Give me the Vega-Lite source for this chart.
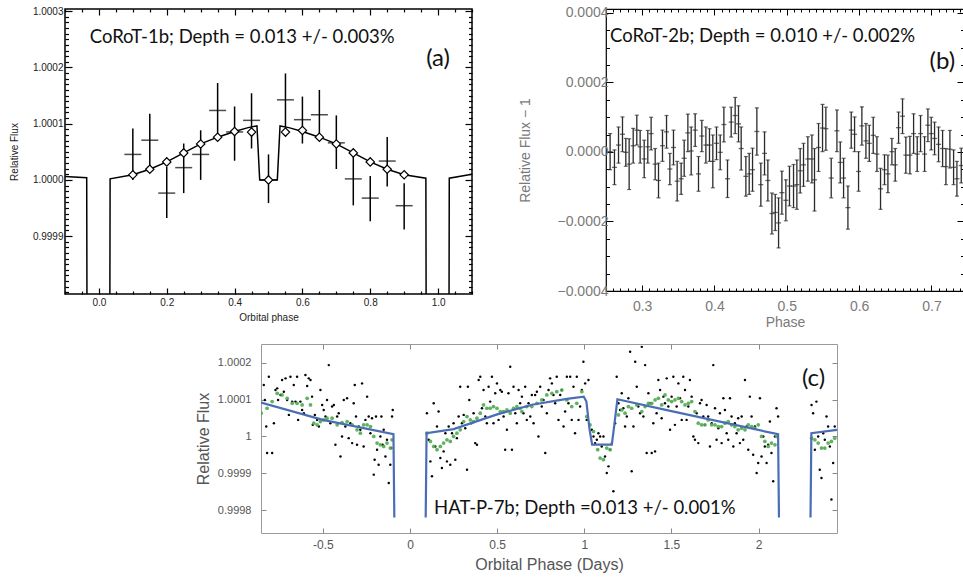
{
"$schema": "https://vega.github.io/schema/vega-lite/v6.json",
"background": "white",
"padding": {"left": 8, "top": 5, "right": 0, "bottom": 0},
"config": {"view": {"stroke": null}, "axis": {"grid": false, "domain": false, "labelOverlap": false, "labelFlush": false, "titleFontWeight": "normal"}},
"datasets": {
"aModel": [{"p":-0.1,"f":1.000006},{"p":-0.036,"f":1.000004},{"p":-0.035,"f":0.9997},{"p":0.032,"f":0.9997},{"p":0.033,"f":1.000002},{"p":0.1,"f":1.000009},{"p":0.15,"f":1.000019},{"p":0.2,"f":1.000032},{"p":0.25,"f":1.000048},{"p":0.3,"f":1.000064},{"p":0.35,"f":1.000076},{"p":0.4,"f":1.000086},{"p":0.44,"f":1.000093},{"p":0.466,"f":1.000096},{"p":0.474,"f":1.0},{"p":0.526,"f":1.0},{"p":0.534,"f":1.000096},{"p":0.56,"f":1.000093},{"p":0.6,"f":1.000086},{"p":0.65,"f":1.000076},{"p":0.7,"f":1.000064},{"p":0.75,"f":1.000048},{"p":0.8,"f":1.000032},{"p":0.85,"f":1.000019},{"p":0.9,"f":1.000009},{"p":0.964,"f":1.000003},{"p":0.965,"f":0.9997},{"p":1.032,"f":0.9997},{"p":1.033,"f":1.000003},{"p":1.1,"f":1.00001}],
"aPts": [
{"p":0.1,"v":1.0000453,"lo":1.0,"hi":1.0000912,"m":1.000009},
{"p":0.15,"v":1.0000706,"lo":1.0000176,"hi":1.0001176,"m":1.000019},
{"p":0.2,"v":0.9999765,"lo":0.9999324,"hi":1.0000235,"m":1.000032},
{"p":0.25,"v":1.0000218,"lo":0.9999765,"hi":1.0000647,"m":1.000048},
{"p":0.3,"v":1.0000453,"lo":1.0,"hi":1.0000882,"m":1.000064},
{"p":0.35,"v":1.0001235,"lo":1.0000765,"hi":1.0001724,"m":1.000076},
{"p":0.4,"v":1.0000853,"lo":1.0000341,"hi":1.0001306,"m":1.000086},
{"p":0.45,"v":1.0001059,"lo":1.0000559,"hi":1.0001541,"m":1.000085},
{"p":0.5,"v":1.0,"lo":0.9999588,"hi":1.0000453,"m":1.0},
{"p":0.55,"v":1.0001424,"lo":1.0000941,"hi":1.0001894,"m":1.000085},
{"p":0.6,"v":1.0001071,"lo":1.0000647,"hi":1.0001482,"m":1.000088},
{"p":0.65,"v":1.0001159,"lo":1.0000706,"hi":1.00016,"m":1.000076},
{"p":0.7,"v":1.0000659,"lo":1.0000194,"hi":1.0001147,"m":1.000064},
{"p":0.75,"v":1.0000018,"lo":0.9999547,"hi":1.0000482,"m":1.000048},
{"p":0.8,"v":0.9999676,"lo":0.9999265,"hi":1.0000071,"m":1.000032},
{"p":0.85,"v":1.0000335,"lo":0.9999882,"hi":1.0000765,"m":1.000019},
{"p":0.9,"v":0.9999541,"lo":0.9999118,"hi":0.9999941,"m":1.000009}],
"aText": [{"p":-0.027,"v":1.000254,"t":"CoRoT-1b; Depth = 0.013 +/- 0.003%"}],
"aLab": [{"p":1.0,"v":1.000215,"t":"(a)"}],
"bPts": [
{"p":0.2557,"v":0.000001,"lo":-0.000051,"hi":0.000053},
{"p":0.2617,"v":-0.000044,"lo":-0.000094,"hi":0.000006},
{"p":0.2673,"v":0.00002,"lo":-0.000032,"hi":0.000072},
{"p":0.2728,"v":0.000051,"lo":0.000001,"hi":0.000101},
{"p":0.2774,"v":-0.000001,"lo":-0.000041,"hi":0.000039},
{"p":0.282,"v":-0.000035,"lo":-0.000108,"hi":0.000038},
{"p":0.2876,"v":0.000018,"lo":-0.000032,"hi":0.000068},
{"p":0.2926,"v":0.000063,"lo":0.00002,"hi":0.000106},
{"p":0.2972,"v":0.000015,"lo":-0.000032,"hi":0.000062},
{"p":0.3028,"v":-0.00002,"lo":-0.000074,"hi":0.000034},
{"p":0.3078,"v":0.000015,"lo":-0.000032,"hi":0.000062},
{"p":0.3124,"v":0.000053,"lo":0.000006,"hi":0.0001},
{"p":0.318,"v":-0.000035,"lo":-0.00008,"hi":0.00001},
{"p":0.3226,"v":-0.000082,"lo":-0.000132,"hi":-0.000032},
{"p":0.3281,"v":0.000018,"lo":-0.000027,"hi":0.000063},
{"p":0.3337,"v":0.000058,"lo":0.000011,"hi":0.000105},
{"p":0.3383,"v":-0.000049,"lo":-0.000094,"hi":-0.000004},
{"p":0.3433,"v":0.000013,"lo":-0.000037,"hi":0.000063},
{"p":0.3484,"v":-0.000084,"lo":-0.000141,"hi":-0.000027},
{"p":0.3539,"v":-0.000077,"lo":-0.000122,"hi":-0.000032},
{"p":0.3581,"v":-0.000018,"lo":-0.00007,"hi":0.000034},
{"p":0.3632,"v":0.000055,"lo":0.000001,"hi":0.000109},
{"p":0.3678,"v":0.000003,"lo":-0.000066,"hi":0.000072},
{"p":0.3733,"v":0.000063,"lo":0.000016,"hi":0.00011},
{"p":0.3779,"v":-0.000063,"lo":-0.000113,"hi":-0.000013},
{"p":0.3825,"v":0.000046,"lo":0.000001,"hi":0.000091},
{"p":0.3881,"v":0.00002,"lo":-0.000032,"hi":0.000072},
{"p":0.3931,"v":0.00002,"lo":-0.000027,"hi":0.000067},
{"p":0.3977,"v":-0.000027,"lo":-0.000103,"hi":0.000049},
{"p":0.4028,"v":0.000025,"lo":-0.000022,"hi":0.000072},
{"p":0.4079,"v":-0.000001,"lo":-0.000051,"hi":0.000049},
{"p":0.413,"v":0.000079,"lo":0.000029,"hi":0.000129},
{"p":0.418,"v":-0.000077,"lo":-0.000131,"hi":-0.000023},
{"p":0.4231,"v":0.000086,"lo":0.000043,"hi":0.000129},
{"p":0.4286,"v":0.000105,"lo":0.000053,"hi":0.000157},
{"p":0.4332,"v":0.000081,"lo":0.000029,"hi":0.000133},
{"p":0.4369,"v":0.00001,"lo":-0.000052,"hi":0.000072},
{"p":0.4434,"v":-0.00007,"lo":-0.000127,"hi":-0.000013},
{"p":0.448,"v":-0.000063,"lo":-0.000122,"hi":-0.000004},
{"p":0.4526,"v":-0.000051,"lo":-0.000113,"hi":0.000011},
{"p":0.4586,"v":0.000059,"lo":-0.000009,"hi":0.000127},
{"p":0.4641,"v":-0.000094,"lo":-0.000156,"hi":-0.000032},
{"p":0.4692,"v":-0.000004,"lo":-0.000066,"hi":0.000058},
{"p":0.4738,"v":-0.000082,"lo":-0.000141,"hi":-0.000023},
{"p":0.4794,"v":-0.000177,"lo":-0.000236,"hi":-0.000118},
{"p":0.484,"v":-0.000174,"lo":-0.000226,"hi":-0.000122},
{"p":0.4886,"v":-0.000204,"lo":-0.000276,"hi":-0.000132},
{"p":0.4932,"v":-0.000117,"lo":-0.000179,"hi":-0.000055},
{"p":0.4987,"v":-0.000139,"lo":-0.000198,"hi":-0.00008},
{"p":0.5037,"v":-0.000098,"lo":-0.000155,"hi":-0.000041},
{"p":0.5093,"v":-0.000098,"lo":-0.00016,"hi":-0.000036},
{"p":0.5139,"v":-0.000094,"lo":-0.000165,"hi":-0.000023},
{"p":0.5185,"v":-0.000054,"lo":-0.000118,"hi":0.00001},
{"p":0.5231,"v":-0.000037,"lo":-0.000099,"hi":0.000025},
{"p":0.5291,"v":-0.00002,"lo":-0.000084,"hi":0.000044},
{"p":0.5347,"v":-0.00002,"lo":-0.000089,"hi":0.000049},
{"p":0.5383,"v":-0.00008,"lo":-0.00017,"hi":0.00001},
{"p":0.5439,"v":0.000013,"lo":-0.000056,"hi":0.000082},
{"p":0.5494,"v":0.000069,"lo":0.000001,"hi":0.000137},
{"p":0.554,"v":0.000067,"lo":0.000005,"hi":0.000129},
{"p":0.5614,"v":-0.000075,"lo":-0.000132,"hi":-0.000018},
{"p":0.5693,"v":0.000061,"lo":0.000001,"hi":0.000121},
{"p":0.5739,"v":-0.00003,"lo":-0.000089,"hi":0.000029},
{"p":0.5785,"v":-0.000075,"lo":-0.000132,"hi":-0.000018},
{"p":0.5845,"v":-0.00016,"lo":-0.000222,"hi":-0.000098},
{"p":0.5891,"v":0.000063,"lo":0.000011,"hi":0.000115},
{"p":0.5937,"v":0.000051,"lo":0.000001,"hi":0.000101},
{"p":0.5992,"v":-0.000056,"lo":-0.000113,"hi":0.000001},
{"p":0.6038,"v":0.000075,"lo":0.00002,"hi":0.00013},
{"p":0.6094,"v":0.000032,"lo":-0.000018,"hi":0.000082},
{"p":0.614,"v":0.000025,"lo":-0.000027,"hi":0.000077},
{"p":0.6195,"v":0.000048,"lo":-0.000004,"hi":0.0001},
{"p":0.6246,"v":-0.000006,"lo":-0.000056,"hi":0.000044},
{"p":0.6296,"v":-0.000106,"lo":-0.000165,"hi":-0.000047},
{"p":0.6351,"v":-0.000051,"lo":-0.000094,"hi":-0.000008},
{"p":0.6398,"v":-0.000063,"lo":-0.000117,"hi":-0.000009},
{"p":0.6453,"v":0.000001,"lo":-0.000037,"hi":0.000039},
{"p":0.6499,"v":-0.000037,"lo":-0.000084,"hi":0.00001},
{"p":0.6545,"v":0.00007,"lo":0.000025,"hi":0.000115},
{"p":0.66,"v":0.000103,"lo":0.000053,"hi":0.000153},
{"p":0.6646,"v":-0.000009,"lo":-0.000061,"hi":0.000043},
{"p":0.6702,"v":-0.000009,"lo":-0.000063,"hi":0.000045},
{"p":0.6753,"v":0.000053,"lo":-0.000004,"hi":0.00011},
{"p":0.6803,"v":-0.000006,"lo":-0.000056,"hi":0.000044},
{"p":0.6849,"v":0.000053,"lo":0.000001,"hi":0.000105},
{"p":0.6905,"v":-0.000006,"lo":-0.000056,"hi":0.000044},
{"p":0.6951,"v":0.000077,"lo":0.00003,"hi":0.000124},
{"p":0.6997,"v":0.000053,"lo":0.000006,"hi":0.0001},
{"p":0.7043,"v":0.000039,"lo":-0.000008,"hi":0.000086},
{"p":0.7098,"v":0.000022,"lo":-0.000028,"hi":0.000072},
{"p":0.7154,"v":0.00001,"lo":-0.000042,"hi":0.000062},
{"p":0.72,"v":-0.000042,"lo":-0.000094,"hi":0.00001},
{"p":0.7255,"v":0.000008,"lo":-0.000046,"hi":0.000062},
{"p":0.7306,"v":-0.000044,"lo":-0.000094,"hi":0.000006},
{"p":0.7352,"v":-0.000077,"lo":-0.000127,"hi":-0.000027},
{"p":0.7412,"v":-0.000039,"lo":-0.000089,"hi":0.000011}],
"bText": [{"p":0.2557,"v":0.000334,"t":"CoRoT-2b; Depth = 0.010 +/- 0.002%"}],
"bLab": [{"p":0.715,"v":0.000259,"t":"(b)"}],
"cModel": [{"s":1,"p":-0.855,"f":1.000092},{"s":1,"p":-0.5,"f":1.000045},{"s":1,"p":-0.095,"f":1.000006},{"s":1,"p":-0.09,"f":0.99978},{"s":2,"p":0.09,"f":0.99978},{"s":2,"p":0.095,"f":1.000009},{"s":2,"p":0.25,"f":1.00002},{"s":2,"p":0.5,"f":1.00006},{"s":2,"p":0.7,"f":1.000086},{"s":2,"p":0.9,"f":1.000102},{"s":2,"p":0.997,"f":1.000108},{"s":2,"p":1.012,"f":1.000095},{"s":2,"p":1.03,"f":1.00002},{"s":2,"p":1.045,"f":0.999978},{"s":2,"p":1.158,"f":0.999978},{"s":2,"p":1.172,"f":1.00003},{"s":2,"p":1.19,"f":1.000101},{"s":2,"p":1.5,"f":1.000069},{"s":2,"p":2.112,"f":1.000006},{"s":2,"p":2.117,"f":0.99978},{"s":3,"p":2.298,"f":0.99978},{"s":3,"p":2.303,"f":1.000009},{"s":3,"p":2.45,"f":1.000018}],
"cBlack": [
{"p":-0.839,"f":1.0001396},{"p":-0.833,"f":1.0000991},{"p":-0.825,"f":1.000027},{"p":-0.82,"f":0.999955},{"p":-0.81,"f":1.0001622},{"p":-0.791,"f":0.999955},{"p":-0.781,"f":1.000036},{"p":-0.772,"f":1.0001261},{"p":-0.762,"f":1.0001306},{"p":-0.757,"f":1.0000991},{"p":-0.743,"f":1.0001126},{"p":-0.734,"f":1.0001532},{"p":-0.724,"f":1.0001216},{"p":-0.714,"f":1.0001577},{"p":-0.705,"f":1.0000991},{"p":-0.695,"f":1.0000586},{"p":-0.686,"f":1.0001622},{"p":-0.676,"f":1.0000946},{"p":-0.667,"f":1.0001396},{"p":-0.657,"f":1.0000946},{"p":-0.648,"f":1.0001622},{"p":-0.642,"f":1.000045},{"p":-0.629,"f":1.0000946},{"p":-0.619,"f":1.0000721},{"p":-0.609,"f":1.0000631},{"p":-0.6,"f":1.0001667},{"p":-0.59,"f":1.0001369},{"p":-0.581,"f":1.0001577},{"p":-0.571,"f":1.0001532},{"p":-0.562,"f":1.0001081},{"p":-0.558,"f":1.0000315},{"p":-0.546,"f":1.0000586},{"p":-0.533,"f":1.000045},{"p":-0.523,"f":1.000027},{"p":-0.514,"f":1.0001261},{"p":-0.504,"f":1.0000856},{"p":-0.495,"f":1.0000721},{"p":-0.485,"f":1.0000541},{"p":-0.476,"f":1.0000991},{"p":-0.466,"f":1.0001937},{"p":-0.457,"f":1.000036},{"p":-0.447,"f":1.0000811},{"p":-0.437,"f":1.0000856},{"p":-0.428,"f":0.9999775},{"p":-0.418,"f":1.0000541},{"p":-0.409,"f":1.0000631},{"p":-0.399,"f":0.9999459},{"p":-0.39,"f":1.0},{"p":-0.38,"f":1.0000991},{"p":-0.371,"f":1.000027},{"p":-0.361,"f":1.0001036},{"p":-0.352,"f":0.9999955},{"p":-0.342,"f":1.000036},{"p":-0.332,"f":0.999982},{"p":-0.323,"f":1.0000901},{"p":-0.317,"f":1.0001396},{"p":-0.31,"f":1.0000541},{"p":-0.304,"f":0.9999775},{"p":-0.294,"f":1.000027},{"p":-0.285,"f":1.000018},{"p":-0.275,"f":1.0001441},{"p":-0.266,"f":0.999973},{"p":-0.256,"f":1.000045},{"p":-0.246,"f":1.0001081},{"p":-0.237,"f":1.0000541},{"p":-0.227,"f":1.000009},{"p":-0.218,"f":1.0000495},{"p":-0.208,"f":0.9998964},{"p":-0.203,"f":0.9999369},{"p":-0.195,"f":1.0000541},{"p":-0.189,"f":0.999964},{"p":-0.18,"f":0.9999234},{"p":-0.17,"f":1.0},{"p":-0.164,"f":1.0000541},{"p":-0.157,"f":0.9999775},{"p":-0.151,"f":1.000018},{"p":-0.141,"f":0.9999459},{"p":-0.132,"f":0.999991},{"p":-0.122,"f":0.9998739},{"p":-0.113,"f":0.9999234},{"p":-0.107,"f":0.9999685},{"p":-0.103,"f":1.0000541},{"p":-0.099,"f":1.0000721},
{"p":0.097,"f":1.0000631},{"p":0.107,"f":0.999991},{"p":0.117,"f":0.9999324},{"p":0.126,"f":0.9998919},{"p":0.136,"f":1.0000901},{"p":0.145,"f":0.999973},{"p":0.155,"f":1.000027},{"p":0.164,"f":1.0000676},{"p":0.174,"f":0.9999414},{"p":0.183,"f":0.9999144},{"p":0.193,"f":0.9999595},{"p":0.203,"f":1.000009},{"p":0.212,"f":0.9999324},{"p":0.222,"f":1.000027},{"p":0.231,"f":0.9999234},{"p":0.241,"f":1.000009},{"p":0.25,"f":1.000036},{"p":0.26,"f":0.9999369},{"p":0.269,"f":0.9999955},{"p":0.279,"f":1.0000541},{"p":0.288,"f":1.0001351},{"p":0.298,"f":1.000036},{"p":0.308,"f":1.0000586},{"p":0.317,"f":1.0000225},{"p":0.327,"f":0.9999099},{"p":0.332,"f":1.0001351},{"p":0.34,"f":1.0000991},{"p":0.352,"f":1.000036},{"p":0.365,"f":1.0000631},{"p":0.374,"f":0.999982},{"p":0.384,"f":0.9999775},{"p":0.394,"f":1.0001532},{"p":0.403,"f":1.0001622},{"p":0.413,"f":1.0000766},{"p":0.422,"f":1.0001261},{"p":0.432,"f":1.0000541},{"p":0.441,"f":1.000036},{"p":0.451,"f":1.0001351},{"p":0.46,"f":1.0000946},{"p":0.47,"f":1.0001622},{"p":0.479,"f":1.000036},{"p":0.489,"f":1.0001171},{"p":0.499,"f":1.0001441},{"p":0.508,"f":1.000045},{"p":0.518,"f":1.0001261},{"p":0.527,"f":1.0001216},{"p":0.537,"f":1.0000541},{"p":0.546,"f":0.999964},{"p":0.556,"f":1.000018},{"p":0.565,"f":1.0001171},{"p":0.575,"f":1.0001892},{"p":0.585,"f":0.999964},
{"p":0.594,"f":1.0001351},{"p":0.604,"f":1.0000631},{"p":0.613,"f":1.000036},{"p":0.623,"f":1.0001261},{"p":0.632,"f":1.0000901},{"p":0.642,"f":1.0001081},{"p":0.651,"f":1.0000631},{"p":0.661,"f":1.0001351},{"p":0.67,"f":1.000045},{"p":0.68,"f":1.0000901},{"p":0.69,"f":1.0000541},{"p":0.699,"f":1.0001126},{"p":0.709,"f":1.000036},{"p":0.718,"f":1.0001126},{"p":0.728,"f":1.0001216},{"p":0.737,"f":1.0},{"p":0.747,"f":1.0001351},{"p":0.756,"f":1.0000811},{"p":0.766,"f":1.0000991},{"p":0.776,"f":0.999955},{"p":0.785,"f":1.0000631},{"p":0.795,"f":1.0001261},{"p":0.804,"f":1.0001577},{"p":0.814,"f":1.0001441},{"p":0.823,"f":1.0001126},{"p":0.833,"f":1.0000901},{"p":0.842,"f":1.0001622},{"p":0.852,"f":1.000045},{"p":0.862,"f":1.0001126},{"p":0.871,"f":1.0001261},{"p":0.881,"f":1.000027},{"p":0.89,"f":1.0000676},{"p":0.9,"f":1.0001622},{"p":0.909,"f":1.0000901},{"p":0.919,"f":1.0001622},{"p":0.928,"f":1.000045},{"p":0.938,"f":1.0001351},{"p":0.947,"f":1.000009},{"p":0.957,"f":1.0001622},{"p":0.967,"f":1.000045},{"p":0.976,"f":1.0000811},{"p":0.986,"f":1.0001261},{"p":0.995,"f":1.0002027},{"p":1.005,"f":1.0001441},{"p":1.014,"f":1.000045},{"p":1.024,"f":1.0001532},{"p":1.043,"f":1.000018},{"p":1.053,"f":1.0},{"p":1.062,"f":0.999982},{"p":1.072,"f":0.999991},{"p":1.081,"f":1.000009},{"p":1.091,"f":1.0},{"p":1.1,"f":0.999973},{"p":1.11,"f":1.0},{"p":1.119,"f":0.9999459},{"p":1.129,"f":0.9999009},{"p":1.139,"f":0.9999189},{"p":1.148,"f":0.999964},{"p":1.158,"f":0.999982},{"p":1.167,"f":0.9998514},{"p":1.177,"f":1.000036},{"p":1.186,"f":1.0001622},{"p":1.196,"f":1.0000901},{"p":1.205,"f":1.0000721},{"p":1.215,"f":1.0001171},{"p":1.224,"f":1.0000766},{"p":1.234,"f":1.000027},{"p":1.244,"f":1.0000541},{"p":1.253,"f":1.0001036},{"p":1.263,"f":1.0002297},{"p":1.272,"f":0.9999054},{"p":1.282,"f":1.000027},{"p":1.292,"f":1.0002027},{"p":1.301,"f":1.0001351},{"p":1.31,"f":1.0000811},{"p":1.32,"f":1.0000631},{"p":1.33,"f":1.0002432},{"p":1.339,"f":1.0000541},{"p":1.349,"f":1.0001937},{"p":1.358,"f":0.999955},{"p":1.368,"f":1.0001171},{"p":1.377,"f":1.0000901},{"p":1.387,"f":0.999955},{"p":1.396,"f":1.000036},{"p":1.406,"f":0.9999595},{"p":1.415,"f":1.0000631},{"p":1.425,"f":1.0001532},{"p":1.435,"f":1.0001261},{"p":1.444,"f":1.0000495},{"p":1.454,"f":1.0001081},{"p":1.463,"f":1.0000901},{"p":1.473,"f":1.0001577},{"p":1.482,"f":1.0000811},{"p":1.492,"f":1.000018},{"p":1.501,"f":1.0001081},{"p":1.511,"f":1.0001622},{"p":1.52,"f":1.0000315},{"p":1.53,"f":1.0000811},{"p":1.54,"f":1.0001441},{"p":1.549,"f":1.0001036},{"p":1.559,"f":1.000045},{"p":1.568,"f":1.0001622},{"p":1.578,"f":1.0001261},{"p":1.587,"f":1.000045},{"p":1.597,"f":1.0000811},{"p":1.606,"f":1.0001532},{"p":1.616,"f":1.0001081},{"p":1.626,"f":1.0},{"p":1.635,"f":0.999991},{"p":1.645,"f":1.0000631},{"p":1.654,"f":0.999982},{"p":1.664,"f":1.0000901},{"p":1.673,"f":1.0000991},{"p":1.683,"f":1.0000541},{"p":1.692,"f":1.0000315},{"p":1.702,"f":1.0000856},{"p":1.711,"f":1.0000541},{"p":1.721,"f":0.999973},{"p":1.731,"f":1.000036},{"p":1.74,"f":1.0001937},{"p":1.75,"f":1.0000766},{"p":1.759,"f":0.999991},{"p":1.769,"f":1.0000225},{"p":1.778,"f":1.0000631},{"p":1.788,"f":0.999982},{"p":1.798,"f":1.0001036},{"p":1.807,"f":1.0000721},{"p":1.817,"f":1.000009},{"p":1.826,"f":0.999991},{"p":1.836,"f":1.0001036},{"p":1.845,"f":1.0000541},{"p":1.855,"f":0.999973},{"p":1.864,"f":1.000036},{"p":1.874,"f":1.000009},{"p":1.883,"f":1.0000495},{"p":1.893,"f":0.999982},{"p":1.903,"f":1.0000541},{"p":1.912,"f":0.999991},{"p":1.922,"f":1.0001532},{"p":1.931,"f":1.000027},{"p":1.941,"f":0.999964},{"p":1.95,"f":1.0001081},{"p":1.96,"f":1.0000541},{"p":1.969,"f":0.9999505},{"p":1.979,"f":1.000027},{"p":1.989,"f":0.9999009},{"p":1.998,"f":0.9999279},{"p":2.008,"f":1.0001036},{"p":2.017,"f":0.9999459},{"p":2.027,"f":1.0},{"p":2.036,"f":0.999973},{"p":2.046,"f":0.9999279},{"p":2.055,"f":0.9999775},{"p":2.065,"f":1.0000405},{"p":2.074,"f":0.999955},{"p":2.084,"f":0.9998784},{"p":2.094,"f":1.0},{"p":2.103,"f":1.0000766},{"p":2.112,"f":1.0000541},
{"p":2.304,"f":1.0000856},{"p":2.313,"f":1.0000631},{"p":2.323,"f":0.999964},{"p":2.332,"f":1.0000946},{"p":2.342,"f":1.0},{"p":2.351,"f":0.9999099},{"p":2.361,"f":0.9998874},{"p":2.371,"f":1.000009},{"p":2.38,"f":0.999991},{"p":2.39,"f":1.0000541},{"p":2.399,"f":1.000027},{"p":2.409,"f":0.999973},{"p":2.418,"f":0.9998288},{"p":2.428,"f":0.9999279},{"p":2.437,"f":1.000027}],
"cGreen": [
{"p":-0.854,"f":1.0000631},{"p":-0.82,"f":1.0000766},{"p":-0.791,"f":1.0000946},{"p":-0.762,"f":1.0001171},{"p":-0.734,"f":1.0001126},{"p":-0.705,"f":1.0001036},{"p":-0.676,"f":1.0000901},{"p":-0.648,"f":1.0000901},{"p":-0.619,"f":1.0000856},{"p":-0.59,"f":1.0001036},{"p":-0.571,"f":1.0000856},{"p":-0.552,"f":1.000036},{"p":-0.533,"f":1.0000315},{"p":-0.514,"f":1.0000405},{"p":-0.495,"f":1.000045},{"p":-0.476,"f":1.0000495},{"p":-0.447,"f":1.0000495},{"p":-0.418,"f":1.0000315},{"p":-0.39,"f":1.0000378},{"p":-0.361,"f":1.0000405},{"p":-0.332,"f":1.0000315},{"p":-0.304,"f":1.000018},{"p":-0.285,"f":1.000009},{"p":-0.266,"f":1.0000315},{"p":-0.246,"f":1.0000315},{"p":-0.227,"f":1.000027},{"p":-0.208,"f":1.0},{"p":-0.189,"f":0.999982},{"p":-0.17,"f":0.9999775},{"p":-0.151,"f":0.999973},{"p":-0.132,"f":0.999982},{"p":-0.113,"f":0.9999685},{"p":-0.103,"f":0.999991},
{"p":0.097,"f":1.000009},{"p":0.117,"f":0.9999865},{"p":0.136,"f":0.999973},{"p":0.155,"f":0.999964},{"p":0.174,"f":0.999973},{"p":0.193,"f":0.999982},{"p":0.212,"f":0.999991},{"p":0.231,"f":0.9999865},{"p":0.25,"f":1.0},{"p":0.269,"f":1.000009},{"p":0.288,"f":1.000018},{"p":0.308,"f":1.0000405},{"p":0.327,"f":1.0000541},{"p":0.346,"f":1.000045},{"p":0.365,"f":1.0000405},{"p":0.384,"f":1.0000495},{"p":0.403,"f":1.0000631},{"p":0.422,"f":1.0000856},{"p":0.441,"f":1.0000766},{"p":0.46,"f":1.0000766},{"p":0.479,"f":1.0000811},{"p":0.499,"f":1.0000766},{"p":0.518,"f":1.0000676},{"p":0.537,"f":1.0000676},{"p":0.556,"f":1.0000721},{"p":0.575,"f":1.0000631},{"p":0.594,"f":1.0000766},{"p":0.613,"f":1.0000811},{"p":0.632,"f":1.0000766},{"p":0.642,"f":1.0000676},{"p":0.67,"f":1.0000811},{"p":0.699,"f":1.0000811},{"p":0.728,"f":1.0000901},{"p":0.756,"f":1.0000991},{"p":0.785,"f":1.0001126},{"p":0.814,"f":1.0001171},{"p":0.842,"f":1.0001216},{"p":0.871,"f":1.0001261},{"p":0.9,"f":1.0000991},{"p":0.928,"f":1.0000811},{"p":0.957,"f":1.0000901},{"p":0.986,"f":1.0001216},{"p":1.014,"f":1.0000541},{"p":1.033,"f":1.0000315},{"p":1.053,"f":1.0000135},{"p":1.077,"f":0.999964},{"p":1.091,"f":0.9999414},{"p":1.11,"f":0.9999369},{"p":1.129,"f":0.9999685},{"p":1.148,"f":0.999964},
{"p":1.196,"f":1.0000586},{"p":1.215,"f":1.0000721},{"p":1.234,"f":1.0000631},{"p":1.253,"f":1.0000811},{"p":1.272,"f":1.0000766},{"p":1.301,"f":1.0000856},{"p":1.33,"f":1.0000676},{"p":1.349,"f":1.0000811},{"p":1.368,"f":1.0000901},{"p":1.387,"f":1.0000901},{"p":1.406,"f":1.0000991},{"p":1.425,"f":1.0001036},{"p":1.444,"f":1.0000856},{"p":1.463,"f":1.0001126},{"p":1.482,"f":1.0000991},{"p":1.501,"f":1.0000946},{"p":1.52,"f":1.0000991},{"p":1.54,"f":1.0001036},{"p":1.559,"f":1.0000946},{"p":1.578,"f":1.0000856},{"p":1.597,"f":1.0000901},{"p":1.616,"f":1.0000946},{"p":1.635,"f":1.0000676},{"p":1.654,"f":1.000036},{"p":1.673,"f":1.0000315},{"p":1.692,"f":1.0000315},{"p":1.711,"f":1.000045},{"p":1.731,"f":1.0000315},{"p":1.75,"f":1.0000315},{"p":1.769,"f":1.000027},{"p":1.788,"f":1.000027},{"p":1.807,"f":1.000036},{"p":1.826,"f":1.0000405},{"p":1.845,"f":1.0000315},{"p":1.864,"f":1.000027},{"p":1.883,"f":1.000018},{"p":1.903,"f":1.0000225},{"p":1.922,"f":1.000018},{"p":1.941,"f":1.0000315},{"p":1.96,"f":1.000027},{"p":1.979,"f":1.0000225},{"p":1.998,"f":1.0000315},{"p":2.017,"f":1.0},{"p":2.036,"f":0.9999865},{"p":2.055,"f":0.999973},{"p":2.074,"f":0.999982},{"p":2.094,"f":0.9999775},{"p":2.103,"f":1.0},
{"p":2.304,"f":0.9999955},{"p":2.323,"f":0.999991},{"p":2.342,"f":0.999982},{"p":2.361,"f":0.9999685},{"p":2.38,"f":0.9999685},{"p":2.399,"f":0.999982},{"p":2.418,"f":0.9999865},{"p":2.437,"f":0.9999955}],
"cText": [{"p":0.138,"f":0.999805,"t":"HAT-P-7b; Depth =0.013 +/- 0.001%"}],
"cLab": [{"p":2.315,"f":1.000157,"t":"(c)"}]
},
"bounds": "flush",
"spacing": 335,
"vconcat": [
{"bounds": "flush", "spacing": 134, "hconcat": [
{"width": 407, "height": 285,
 "view": {"stroke": "black", "strokeWidth": 1.5},
 "resolve": {"axis": {"x": "independent", "y": "independent"}},
 "layer": [
  {"data": {"name": "aModel"}, "mark": {"type": "line", "color": "black", "strokeWidth": 1.5, "clip": true},
   "encoding": {
    "x": {"field": "p", "type": "quantitative", "scale": {"domain": [-0.1, 1.1], "nice": false, "zero": false},
     "axis": {"orient": "bottom", "values": [0,0.2,0.4,0.6,0.8,1], "format": ".1f",
      "tickSize": -6, "tickColor": "black", "tickWidth": 1.2, "labelFont": "Liberation Sans", "labelFontSize": 10, "labelColor": "#222", "labelPadding": 9,
      "title": "Orbital phase", "titleFont": "Liberation Sans", "titleFontSize": 10, "titleColor": "#222", "titlePadding": 5}},
    "y": {"field": "f", "type": "quantitative", "scale": {"domain": [0.999797, 1.000304], "nice": false, "zero": false},
     "axis": {"orient": "left", "values": [0.9999,1,1.0001,1.0002,1.0003], "format": ".4f",
      "tickSize": -7, "tickColor": "black", "tickWidth": 1.2, "labelFont": "Liberation Sans", "labelFontSize": 10, "labelColor": "#222", "labelPadding": 9,
      "title": "Relative Flux", "titleFont": "Liberation Sans", "titleFontSize": 10, "titleColor": "#222", "titlePadding": 13}}}},
  {"data": {"name": "aPts"}, "mark": {"type": "rule", "color": "black", "strokeWidth": 1.5},
   "encoding": {"x": {"field": "p", "type": "quantitative", "scale": {"domain": [-0.1, 1.1], "nice": false, "zero": false}, "axis": null},
    "y": {"field": "lo", "type": "quantitative", "scale": {"domain": [0.999797, 1.000304], "nice": false, "zero": false}, "axis": null},
    "y2": {"field": "hi"}}},
  {"data": {"name": "aPts"}, "mark": {"type": "tick", "orient": "horizontal", "size": 17, "thickness": 1.5, "color": "black"},
   "encoding": {"x": {"field": "p", "type": "quantitative", "scale": {"domain": [-0.1, 1.1], "nice": false, "zero": false}, "axis": null},
    "y": {"field": "v", "type": "quantitative", "scale": {"domain": [0.999797, 1.000304], "nice": false, "zero": false}, "axis": null}}},
  {"data": {"name": "aPts"}, "mark": {"type": "point", "shape": "diamond", "filled": true, "fill": "white", "stroke": "black", "strokeWidth": 1.2, "size": 70, "opacity": 1},
   "encoding": {"x": {"field": "p", "type": "quantitative", "scale": {"domain": [-0.1, 1.1], "nice": false, "zero": false}, "axis": null},
    "y": {"field": "m", "type": "quantitative", "scale": {"domain": [0.999797, 1.000304], "nice": false, "zero": false}, "axis": null}}},
  {"data": {"name": "aText"}, "mark": {"type": "text", "align": "left", "baseline": "middle", "font": "Lato", "fontSize": 18.5, "color": "#111"},
   "encoding": {"x": {"field": "p", "type": "quantitative", "scale": {"domain": [-0.1, 1.1], "nice": false, "zero": false}, "axis": null},
    "y": {"field": "v", "type": "quantitative", "scale": {"domain": [0.999797, 1.000304], "nice": false, "zero": false}, "axis": null},
    "text": {"field": "t"}}},
  {"data": {"name": "aLab"}, "mark": {"type": "text", "align": "center", "baseline": "middle", "font": "Lato", "fontSize": 24, "color": "#111"},
   "encoding": {"x": {"field": "p", "type": "quantitative", "scale": {"domain": [-0.1, 1.1], "nice": false, "zero": false}, "axis": null},
    "y": {"field": "v", "type": "quantitative", "scale": {"domain": [0.999797, 1.000304], "nice": false, "zero": false}, "axis": null},
    "text": {"field": "t"}}},
  {"data": {"name": "aModel"}, "mark": {"type": "point", "opacity": 0},
   "encoding": {
    "x": {"field": "p", "type": "quantitative", "scale": {"domain": [-0.1, 1.1], "nice": false, "zero": false},
     "axis": {"orient": "top", "values": [0,0.2,0.4,0.6,0.8,1], "labels": false, "title": null, "tickSize": -6, "tickColor": "black", "tickWidth": 1.2}},
    "y": {"field": "f", "type": "quantitative", "scale": {"domain": [0.999797, 1.000304], "nice": false, "zero": false},
     "axis": {"orient": "right", "values": [0.9999,1,1.0001,1.0002,1.0003], "labels": false, "title": null, "tickSize": -7, "tickColor": "black", "tickWidth": 1.2}}}},
  {"data": {"name": "aModel"}, "mark": {"type": "point", "opacity": 0},
   "encoding": {
    "x": {"field": "p", "type": "quantitative", "scale": {"domain": [-0.1, 1.1], "nice": false, "zero": false},
     "axis": {"orient": "bottom", "values": [-0.1,-0.05,0.05,0.1,0.15,0.25,0.3,0.35,0.45,0.5,0.55,0.65,0.7,0.75,0.85,0.9,0.95,1.05,1.1], "labels": false, "title": null, "tickSize": -3, "tickColor": "black", "tickWidth": 1.2}},
    "y": {"field": "f", "type": "quantitative", "scale": {"domain": [0.999797, 1.000304], "nice": false, "zero": false},
     "axis": {"orient": "left", "values": [0.9998,0.99981,0.99982,0.99983,0.99984,0.99985,0.99986,0.99987,0.99988,0.99989,0.99991,0.99992,0.99993,0.99994,0.99995,0.99996,0.99997,0.99998,0.99999,1.00001,1.00002,1.00003,1.00004,1.00005,1.00006,1.00007,1.00008,1.00009,1.00011,1.00012,1.00013,1.00014,1.00015,1.00016,1.00017,1.00018,1.00019,1.00021,1.00022,1.00023,1.00024,1.00025,1.00026,1.00027,1.00028,1.00029], "labels": false, "title": null, "tickSize": -3.5, "tickColor": "black", "tickWidth": 1.2}}}},
  {"data": {"name": "aModel"}, "mark": {"type": "point", "opacity": 0},
   "encoding": {
    "x": {"field": "p", "type": "quantitative", "scale": {"domain": [-0.1, 1.1], "nice": false, "zero": false},
     "axis": {"orient": "top", "values": [-0.1,-0.05,0.05,0.1,0.15,0.25,0.3,0.35,0.45,0.5,0.55,0.65,0.7,0.75,0.85,0.9,0.95,1.05,1.1], "labels": false, "title": null, "tickSize": -3, "tickColor": "black", "tickWidth": 1.2}},
    "y": {"field": "f", "type": "quantitative", "scale": {"domain": [0.999797, 1.000304], "nice": false, "zero": false},
     "axis": {"orient": "right", "values": [0.9998,0.99981,0.99982,0.99983,0.99984,0.99985,0.99986,0.99987,0.99988,0.99989,0.99991,0.99992,0.99993,0.99994,0.99995,0.99996,0.99997,0.99998,0.99999,1.00001,1.00002,1.00003,1.00004,1.00005,1.00006,1.00007,1.00008,1.00009,1.00011,1.00012,1.00013,1.00014,1.00015,1.00016,1.00017,1.00018,1.00019,1.00021,1.00022,1.00023,1.00024,1.00025,1.00026,1.00027,1.00028,1.00029], "labels": false, "title": null, "tickSize": -3.5, "tickColor": "black", "tickWidth": 1.2}}}}
 ]},
{"width": 358, "height": 282,
 "view": {"stroke": "black", "strokeWidth": 1.2},
 "resolve": {"axis": {"x": "independent", "y": "independent"}},
 "layer": [
  {"data": {"name": "bPts"}, "mark": {"type": "rule", "color": "#2a2a2a", "strokeWidth": 1.3},
   "encoding": {
    "x": {"field": "p", "type": "quantitative", "scale": {"domain": [0.25, 0.745], "nice": false, "zero": false},
     "axis": {"orient": "bottom", "values": [0.3,0.4,0.5,0.6,0.7], "format": ".1f",
      "tickSize": -6, "tickColor": "black", "tickWidth": 1, "labelFont": "Liberation Sans", "labelFontSize": 14, "labelColor": "#7a7a7a", "labelPadding": 14,
      "title": "Phase", "titleFont": "Liberation Sans", "titleFontSize": 14, "titleColor": "#7a7a7a", "titlePadding": 2}},
    "y": {"field": "lo", "type": "quantitative", "scale": {"domain": [-0.0004, 0.0004115], "nice": false, "zero": false},
     "axis": {"orient": "left", "values": [-0.0004,-0.0002,0,0.0002,0.0004], "format": ".4f",
      "tickSize": -7, "tickColor": "black", "tickWidth": 1, "labelFont": "Liberation Sans", "labelFontSize": 14, "labelColor": "#7a7a7a", "labelPadding": 5,
      "title": "Relative Flux − 1", "titleFont": "Liberation Sans", "titleFontSize": 14, "titleColor": "#7a7a7a", "titlePadding": 25}},
    "y2": {"field": "hi"}}},
  {"data": {"name": "bPts"}, "mark": {"type": "tick", "orient": "horizontal", "size": 5, "thickness": 1.3, "color": "#2a2a2a"},
   "encoding": {"x": {"field": "p", "type": "quantitative", "scale": {"domain": [0.25, 0.745], "nice": false, "zero": false}, "axis": null},
    "y": {"field": "v", "type": "quantitative", "scale": {"domain": [-0.0004, 0.0004115], "nice": false, "zero": false}, "axis": null}}},
  {"data": {"name": "bPts"}, "mark": {"type": "tick", "orient": "horizontal", "size": 4, "thickness": 1.2, "color": "#2a2a2a"},
   "encoding": {"x": {"field": "p", "type": "quantitative", "scale": {"domain": [0.25, 0.745], "nice": false, "zero": false}, "axis": null},
    "y": {"field": "lo", "type": "quantitative", "scale": {"domain": [-0.0004, 0.0004115], "nice": false, "zero": false}, "axis": null}}},
  {"data": {"name": "bPts"}, "mark": {"type": "tick", "orient": "horizontal", "size": 4, "thickness": 1.2, "color": "#2a2a2a"},
   "encoding": {"x": {"field": "p", "type": "quantitative", "scale": {"domain": [0.25, 0.745], "nice": false, "zero": false}, "axis": null},
    "y": {"field": "hi", "type": "quantitative", "scale": {"domain": [-0.0004, 0.0004115], "nice": false, "zero": false}, "axis": null}}},
  {"mark": {"type": "rule", "color": "black", "strokeWidth": 2.2},
   "encoding": {"y": {"datum": 0, "type": "quantitative", "scale": {"domain": [-0.0004, 0.0004115], "nice": false, "zero": false}, "axis": null}}},
  {"data": {"name": "bText"}, "mark": {"type": "text", "align": "left", "baseline": "middle", "font": "Lato", "fontSize": 18.5, "color": "#111"},
   "encoding": {"x": {"field": "p", "type": "quantitative", "scale": {"domain": [0.25, 0.745], "nice": false, "zero": false}, "axis": null},
    "y": {"field": "v", "type": "quantitative", "scale": {"domain": [-0.0004, 0.0004115], "nice": false, "zero": false}, "axis": null},
    "text": {"field": "t"}}},
  {"data": {"name": "bLab"}, "mark": {"type": "text", "align": "center", "baseline": "middle", "font": "Lato", "fontSize": 24, "color": "#111"},
   "encoding": {"x": {"field": "p", "type": "quantitative", "scale": {"domain": [0.25, 0.745], "nice": false, "zero": false}, "axis": null},
    "y": {"field": "v", "type": "quantitative", "scale": {"domain": [-0.0004, 0.0004115], "nice": false, "zero": false}, "axis": null},
    "text": {"field": "t"}}},
  {"data": {"name": "bPts"}, "mark": {"type": "point", "opacity": 0},
   "encoding": {
    "x": {"field": "p", "type": "quantitative", "scale": {"domain": [0.25, 0.745], "nice": false, "zero": false},
     "axis": {"orient": "top", "values": [0.3,0.4,0.5,0.6,0.7], "labels": false, "title": null, "tickSize": -6, "tickColor": "black", "tickWidth": 1}},
    "y": {"field": "v", "type": "quantitative", "scale": {"domain": [-0.0004, 0.0004115], "nice": false, "zero": false},
     "axis": {"orient": "right", "values": [-0.0004,-0.0002,0,0.0002,0.0004], "labels": false, "title": null, "tickSize": -7, "tickColor": "black", "tickWidth": 1}}}},
  {"data": {"name": "bPts"}, "mark": {"type": "point", "opacity": 0},
   "encoding": {
    "x": {"field": "p", "type": "quantitative", "scale": {"domain": [0.25, 0.745], "nice": false, "zero": false},
     "axis": {"orient": "bottom", "values": [0.25,0.26,0.27,0.28,0.29,0.31,0.32,0.33,0.34,0.35,0.36,0.37,0.38,0.39,0.41,0.42,0.43,0.44,0.45,0.46,0.47,0.48,0.49,0.51,0.52,0.53,0.54,0.55,0.56,0.57,0.58,0.59,0.61,0.62,0.63,0.64,0.65,0.66,0.67,0.68,0.69,0.71,0.72,0.73,0.74], "labels": false, "title": null, "tickSize": -3, "tickColor": "black", "tickWidth": 1}},
    "y": {"field": "v", "type": "quantitative", "scale": {"domain": [-0.0004, 0.0004115], "nice": false, "zero": false},
     "axis": {"orient": "left", "values": [-0.00035,-0.0003,-0.00025,-0.00015,-0.0001,-0.00005,0.00005,0.0001,0.00015,0.00025,0.0003,0.00035], "labels": false, "title": null, "tickSize": -3.5, "tickColor": "black", "tickWidth": 1}}}},
  {"data": {"name": "bPts"}, "mark": {"type": "point", "opacity": 0},
   "encoding": {
    "x": {"field": "p", "type": "quantitative", "scale": {"domain": [0.25, 0.745], "nice": false, "zero": false},
     "axis": {"orient": "top", "values": [0.25,0.26,0.27,0.28,0.29,0.31,0.32,0.33,0.34,0.35,0.36,0.37,0.38,0.39,0.41,0.42,0.43,0.44,0.45,0.46,0.47,0.48,0.49,0.51,0.52,0.53,0.54,0.55,0.56,0.57,0.58,0.59,0.61,0.62,0.63,0.64,0.65,0.66,0.67,0.68,0.69,0.71,0.72,0.73,0.74], "labels": false, "title": null, "tickSize": -3, "tickColor": "black", "tickWidth": 1}},
    "y": {"field": "v", "type": "quantitative", "scale": {"domain": [-0.0004, 0.0004115], "nice": false, "zero": false},
     "axis": {"orient": "right", "values": [-0.00035,-0.0003,-0.00025,-0.00015,-0.0001,-0.00005,0.00005,0.0001,0.00015,0.00025,0.0003,0.00035], "labels": false, "title": null, "tickSize": -3.5, "tickColor": "black", "tickWidth": 1}}}}
 ]}
]},
{"bounds": "flush", "spacing": 0, "hconcat": [
{"width": 196, "height": 10, "view": {"stroke": null}, "data": {"values": []}, "mark": "point"},
{"width": 576, "height": 189,
 "view": {"stroke": "#9a9a9a", "strokeWidth": 1},
 "resolve": {"axis": {"x": "independent", "y": "independent"}},
 "layer": [
  {"data": {"name": "cBlack"}, "mark": {"type": "point", "filled": true, "color": "black", "size": 6, "opacity": 1, "clip": true},
   "encoding": {
    "x": {"field": "p", "type": "quantitative", "scale": {"domain": [-0.855, 2.45], "nice": false, "zero": false},
     "axis": {"orient": "bottom", "values": [-0.5,0,0.5,1,1.5,2],
      "labelExpr": "datum.value < 0 ? '-' + format(-datum.value,'~g') : format(datum.value,'~g')",
      "tickSize": -5, "tickColor": "#8a8a8a", "tickWidth": 1, "labelFont": "Liberation Sans", "labelFontSize": 12, "labelColor": "#555", "labelPadding": 11,
      "title": "Orbital Phase (Days)", "titleFont": "Liberation Sans", "titleFontSize": 16, "titleColor": "#555", "titlePadding": 6}},
    "y": {"field": "f", "type": "quantitative", "scale": {"domain": [0.999738, 1.000251], "nice": false, "zero": false},
     "axis": {"orient": "left", "values": [0.9998,0.9999,1,1.0001,1.0002],
      "labelExpr": "format(datum.value,'.5~r')",
      "tickSize": -5, "tickColor": "#8a8a8a", "tickWidth": 1, "labelFont": "Liberation Sans", "labelFontSize": 11, "labelColor": "#555", "labelPadding": 15,
      "title": "Relative Flux", "titleFont": "Liberation Sans", "titleFontSize": 16, "titleColor": "#555", "titlePadding": 6}}}},
  {"data": {"name": "cGreen"}, "mark": {"type": "point", "filled": true, "color": "#4fa84f", "size": 14, "opacity": 0.9, "clip": true},
   "encoding": {"x": {"field": "p", "type": "quantitative", "scale": {"domain": [-0.855, 2.45], "nice": false, "zero": false}, "axis": null},
    "y": {"field": "f", "type": "quantitative", "scale": {"domain": [0.999738, 1.000251], "nice": false, "zero": false}, "axis": null}}},
  {"data": {"name": "cModel"}, "mark": {"type": "line", "color": "#4a6db5", "strokeWidth": 2.2, "clip": true},
   "encoding": {"x": {"field": "p", "type": "quantitative", "scale": {"domain": [-0.855, 2.45], "nice": false, "zero": false}, "axis": null},
    "y": {"field": "f", "type": "quantitative", "scale": {"domain": [0.999738, 1.000251], "nice": false, "zero": false}, "axis": null},
    "detail": {"field": "s"}}},
  {"data": {"name": "cText"}, "mark": {"type": "text", "align": "left", "baseline": "middle", "font": "Lato", "fontSize": 18.5, "color": "#111"},
   "encoding": {"x": {"field": "p", "type": "quantitative", "scale": {"domain": [-0.855, 2.45], "nice": false, "zero": false}, "axis": null},
    "y": {"field": "f", "type": "quantitative", "scale": {"domain": [0.999738, 1.000251], "nice": false, "zero": false}, "axis": null},
    "text": {"field": "t"}}},
  {"data": {"name": "cLab"}, "mark": {"type": "text", "align": "center", "baseline": "middle", "font": "Lato", "fontSize": 24, "color": "#111"},
   "encoding": {"x": {"field": "p", "type": "quantitative", "scale": {"domain": [-0.855, 2.45], "nice": false, "zero": false}, "axis": null},
    "y": {"field": "f", "type": "quantitative", "scale": {"domain": [0.999738, 1.000251], "nice": false, "zero": false}, "axis": null},
    "text": {"field": "t"}}},
  {"data": {"name": "cModel"}, "mark": {"type": "point", "opacity": 0},
   "encoding": {
    "x": {"field": "p", "type": "quantitative", "scale": {"domain": [-0.855, 2.45], "nice": false, "zero": false},
     "axis": {"orient": "top", "values": [-0.5,0,0.5,1,1.5,2], "labels": false, "title": null, "tickSize": -5, "tickColor": "#8a8a8a", "tickWidth": 1}},
    "y": {"field": "f", "type": "quantitative", "scale": {"domain": [0.999738, 1.000251], "nice": false, "zero": false},
     "axis": {"orient": "right", "values": [0.9998,0.9999,1,1.0001,1.0002], "labels": false, "title": null, "tickSize": -5, "tickColor": "#8a8a8a", "tickWidth": 1}}}}
 ]}
]}
]
}
